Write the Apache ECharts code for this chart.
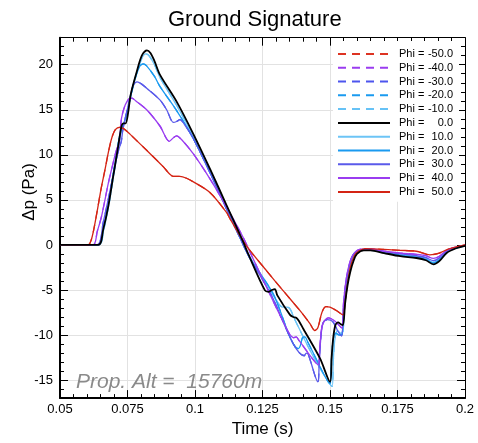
<!DOCTYPE html>
<html>
<head>
<meta charset="utf-8">
<script src="https://cdn.jsdelivr.net/npm/echarts@6/dist/echarts.min.js"></script>
<style>
  html, body { margin: 0; padding: 0; background: #fff; }
  #chart { width: 478px; height: 443px; }
</style>
</head>
<body>
<div id="chart"></div>
<script>
// Ground overpressure signatures, [time (s), Δp (Pa)] per off-track angle.
const phi0 = [[0.05,0],[0.0642,0],[0.066,1.7],[0.0679,4.3],[0.0697,7.6],[0.0712,10.3],[0.0722,12.2],[0.0729,13.3],[0.0736,13.5],[0.0743,13.5],[0.0752,14.6],[0.0762,16.7],[0.0784,19.2],[0.0803,21.0],[0.0822,21.6],[0.0835,21.3],[0.085,20.4],[0.087,18.9],[0.0932,15.9],[0.0994,12.3],[0.1056,8.4],[0.1117,4.4],[0.1179,0.3],[0.1197,-1.0],[0.1259,-5.05],[0.1272,-5.2],[0.1285,-5.0],[0.1296,-4.9],[0.1305,-5.6],[0.1352,-7.76],[0.1364,-8.0],[0.1376,-8.1],[0.1386,-8.5],[0.1401,-9.3],[0.1463,-12.6],[0.15,-15.2],[0.1506,-12.5],[0.1512,-10.3],[0.152,-8.9],[0.153,-8.6],[0.154,-8.8],[0.1548,-8.9],[0.1556,-6.5],[0.1565,-4.5],[0.1575,-3.0],[0.1588,-1.7],[0.16,-1.0],[0.1625,-0.6],[0.165,-0.6],[0.17,-0.9],[0.176,-1.25],[0.182,-1.45],[0.1855,-1.7],[0.1883,-2.15],[0.1905,-1.8],[0.1932,-0.9],[0.1965,-0.4],[0.2,-0.1]];
const phi10 = [[0.05,0],[0.0644,0],[0.0662,1.7],[0.068,4.3],[0.0698,7.6],[0.0713,10.3],[0.0724,12.2],[0.0733,13.2],[0.0745,14.2],[0.0762,16.5],[0.0784,19.0],[0.0803,20.7],[0.0818,21.2],[0.083,21.0],[0.085,20.0],[0.087,18.6],[0.0932,15.5],[0.0994,12.0],[0.1056,8.1],[0.1117,4.1],[0.1179,0.1],[0.12,-1.2],[0.1285,-5.3],[0.1325,-6.9],[0.134,-6.9],[0.1352,-7.1],[0.137,-8.3],[0.1435,-12.2],[0.1508,-15.7],[0.1512,-13],[0.1518,-10.5],[0.1528,-9.5],[0.154,-9.8],[0.1548,-9.6],[0.1556,-6.0],[0.1565,-3.8],[0.1578,-2.1],[0.159,-1.1],[0.1615,-0.6],[0.165,-0.55],[0.17,-0.8],[0.176,-1.1],[0.182,-1.3],[0.1855,-1.55],[0.1883,-1.95],[0.1905,-1.6],[0.1932,-0.8],[0.1965,-0.35],[0.2,-0.1]];
const phi20 = [[0.05,0],[0.0643,0],[0.066,1.8],[0.0678,4.4],[0.0696,7.7],[0.0711,10.4],[0.0722,12.3],[0.073,13.0],[0.074,13.8],[0.0755,15.6],[0.0775,18.2],[0.0795,19.8],[0.0808,20.1],[0.082,19.9],[0.085,18.7],[0.087,17.6],[0.0932,14.9],[0.0994,11.8],[0.1056,8.0],[0.1117,4.0],[0.1179,0.0],[0.12,-1.3],[0.1289,-5.4],[0.1383,-11.5],[0.139,-11.2],[0.1398,-10.3],[0.1407,-10.2],[0.1418,-10.8],[0.15,-15.4],[0.1505,-13],[0.1512,-10.5],[0.1522,-9.8],[0.1535,-10.0],[0.1545,-9.9],[0.1553,-6.0],[0.1562,-3.8],[0.1575,-2.0],[0.1588,-1.0],[0.1612,-0.6],[0.165,-0.6],[0.17,-0.85],[0.176,-1.15],[0.182,-1.35],[0.1855,-1.6],[0.1883,-2.0],[0.1905,-1.65],[0.1932,-0.8],[0.1965,-0.35],[0.2,-0.1]];
const phi30 = [[0.05,0],[0.0637,0],[0.066,2.5],[0.0691,6.85],[0.071,9.7],[0.072,10.8],[0.0727,11.5],[0.0734,13.0],[0.0753,15.5],[0.0771,17.7],[0.0786,18.1],[0.08,17.9],[0.0821,17.4],[0.087,16.1],[0.0895,15.0],[0.092,13.6],[0.0932,13.7],[0.0944,13.9],[0.0965,13.2],[0.0994,11.8],[0.1056,8.0],[0.1117,4.0],[0.1179,0.0],[0.12,-1.3],[0.1278,-5.3],[0.1405,-12.3],[0.1412,-12.0],[0.142,-12.2],[0.1455,-15.2],[0.146,-13],[0.1467,-10],[0.1475,-8.6],[0.149,-8.3],[0.151,-8.5],[0.153,-9.6],[0.1543,-10.1],[0.155,-7.0],[0.1558,-4.5],[0.157,-2.5],[0.1585,-1.2],[0.161,-0.6],[0.165,-0.5],[0.17,-0.75],[0.176,-1.0],[0.182,-1.2],[0.1855,-1.4],[0.1883,-1.75],[0.1905,-1.45],[0.1932,-0.7],[0.1965,-0.3],[0.2,-0.05]];
const phi40 = [[0.05,0],[0.0622,0],[0.0638,1.5],[0.0654,3.2],[0.0679,6.85],[0.0696,9.0],[0.0706,10.2],[0.0712,10.8],[0.0718,11.2],[0.0723,12.5],[0.0728,14.1],[0.0741,15.5],[0.0755,16.2],[0.0766,16.3],[0.078,16.0],[0.0821,15.0],[0.087,13.2],[0.0905,11.5],[0.092,11.9],[0.0932,12.1],[0.095,11.7],[0.0994,10.1],[0.1056,7.3],[0.1117,4.2],[0.1179,0.8],[0.121,-1.2],[0.127,-5.0],[0.132,-8.1],[0.1365,-10.3],[0.1375,-10.2],[0.1385,-10.6],[0.1457,-13.3],[0.1462,-11.5],[0.1468,-9.5],[0.1474,-8.7],[0.1494,-8.1],[0.152,-8.5],[0.1543,-9.2],[0.155,-6.5],[0.1558,-4.2],[0.157,-2.3],[0.1585,-1.1],[0.161,-0.5],[0.165,-0.45],[0.17,-0.7],[0.176,-0.9],[0.182,-1.05],[0.1855,-1.2],[0.1883,-1.5],[0.1905,-1.25],[0.1932,-0.6],[0.1965,-0.25],[0.2,-0.05]];
const phi50 = [[0.05,0],[0.0605,0],[0.0615,0.5],[0.0625,1.7],[0.0638,3.8],[0.0652,6.2],[0.0667,8.4],[0.068,10.4],[0.0692,11.9],[0.0705,12.8],[0.0722,13.06],[0.0738,12.85],[0.0759,12.3],[0.0821,10.5],[0.0883,8.66],[0.0905,7.9],[0.092,7.6],[0.0944,7.6],[0.0969,7.4],[0.0994,7.0],[0.1056,5.8],[0.1117,3.6],[0.113,2.9],[0.1188,0],[0.1266,-2.9],[0.1327,-5.1],[0.1389,-7.3],[0.1425,-8.7],[0.1444,-9.5],[0.1455,-9.2],[0.147,-7.5],[0.1485,-6.85],[0.15,-6.9],[0.1525,-7.3],[0.1548,-7.76],[0.1556,-6.3],[0.1565,-4.2],[0.1575,-2.5],[0.159,-1.2],[0.1605,-0.7],[0.163,-0.4],[0.17,-0.5],[0.176,-0.6],[0.182,-0.7],[0.187,-1.1],[0.1905,-0.9],[0.1932,-0.54],[0.1965,-0.25],[0.2,0]];

// Legend entries (angle, colour); negative angles mirror the positive ones.
const phiLabels = ['-50.0', '-40.0', '-30.0', '-20.0', '-10.0', '0.0', '10.0', '20.0', '30.0', '40.0', '50.0'];
const phiColors = ['#dd3322', '#9a3cf0', '#4d55ee', '#1a9af0', '#66c2f6', '#000000', '#6cc4f6', '#1a9af0', '#5a5aea', '#9a3cf0', '#d42414'];
const phiData = [phi50, phi40, phi30, phi20, phi10, phi0, phi10, phi20, phi30, phi40, phi50];

const xTicks = { min: 0.05, max: 0.2, step: 0.025 };
const yRange = { min: -17, max: 23 };

const FONT = 'Liberation Sans, Arial, Helvetica, sans-serif';

const series = phiLabels.map((lab, i) => {
  const dashed = lab.startsWith('-');
  const isZero = lab === '0.0';
  return {
    name: 'Phi = ' + lab,
    type: 'line',
    data: phiData[i],
    xAxisIndex: 0,
    yAxisIndex: 0,
    showSymbol: false,
    symbol: 'none',
    smooth: 0.3,
    z: isZero ? 5 : (dashed ? 2 : 3),
    lineStyle: {
      color: phiColors[i],
      width: isZero ? 1.8 : 1.3,
      type: dashed ? [8, 6] : 'solid'
    },
    itemStyle: { color: phiColors[i] },
    emphasis: { disabled: true },
    animation: false
  };
});

const mainY = (pos, labels, lineW) => ({
  type: 'value', position: pos, min: yRange.min, max: yRange.max, splitNumber: 8,
  axisLine: { show: true, onZero: false, lineStyle: { color: '#000', width: lineW } },
  axisTick: { show: true, inside: true, length: 8, lineStyle: { color: '#000', width: 1 } },
  axisLabel: { show: labels, showMinLabel: false, showMaxLabel: false, color: '#000', fontSize: 13, fontFamily: FONT, margin: 7 },
  splitLine: { show: labels, lineStyle: { color: '#e2e2e2', width: 1 } }
});
const minorY = (pos) => ({
  type: 'value', position: pos, min: yRange.min, max: yRange.max, interval: 1,
  axisLine: { show: false },
  axisTick: { show: true, inside: true, length: 4, lineStyle: { color: '#000', width: 1 } },
  axisLabel: { show: false },
  splitLine: { show: false }
});
const xAx = (pos, labels, lineW) => ({
  type: 'value', position: pos, min: xTicks.min, max: xTicks.max, interval: xTicks.step,
  name: labels ? 'Time (s)' : '', nameLocation: 'middle', nameGap: 17,
  nameTextStyle: { color: '#000', fontSize: 17, fontFamily: FONT },
  axisLine: { show: true, onZero: false, lineStyle: { color: '#000', width: lineW } },
  axisTick: { show: true, inside: true, length: 8, lineStyle: { color: '#000', width: 1 } },
  minorTick: { show: true, splitNumber: 5, length: 4, lineStyle: { color: '#000', width: 1 } },
  axisLabel: { show: labels, color: '#000', fontSize: 13, fontFamily: FONT, margin: 5 },
  splitLine: { show: labels, lineStyle: { color: '#e2e2e2', width: 1 } }
});

const chart = echarts.init(document.getElementById('chart'), null, { renderer: 'canvas' });
chart.setOption({
  backgroundColor: '#fff',
  animation: false,
  title: {
    text: 'Ground Signature', left: 163, top: 4,
    textStyle: { color: '#000', fontSize: 22, fontWeight: 'normal', fontFamily: FONT }
  },
  grid: { left: 60, right: 13, top: 37.7, bottom: 35.7 },
  xAxis: [xAx('bottom', true, 2), xAx('top', false, 1)],
  yAxis: [mainY('left', true, 2), minorY('left'), mainY('right', false, 1), minorY('right')],
  legend: {
    data: series.map(s => s.name),
    orient: 'vertical',
    left: 333, top: 41,
    padding: [6, 6, 3, 4],
    itemGap: 0,
    itemWidth: 52,
    itemHeight: 12,
    backgroundColor: '#fff',
    selectedMode: false,
    itemStyle: { opacity: 0, borderWidth: 0 },
    formatter: (name) => '{a|Phi =}{b|' + name.split('=')[1].trim() + '}',
    textStyle: {
      color: '#000', fontSize: 11, fontFamily: FONT, lineHeight: 13.8,
      rich: {
        a: { fontSize: 11, fontFamily: FONT, color: '#000', width: 28, padding: [0, 0, 0, 4], lineHeight: 13.8 },
        b: { fontSize: 11, fontFamily: FONT, color: '#000', width: 26, align: 'right', lineHeight: 13.8 }
      }
    }
  },
  graphic: [
    {
      type: 'text', x: 29, y: 192, rotation: Math.PI / 2,
      style: { text: 'Δp (Pa)', fill: '#000', font: '17px ' + FONT, align: 'center', verticalAlign: 'middle' }
    },
    {
      type: 'text', left: 76, top: 372, z: 10,
      style: { text: 'Prop. Alt =  15760m', fill: '#8a8a8a', font: 'italic 21px ' + FONT }
    }
  ],
  series: series
});
</script>
</body>
</html>
